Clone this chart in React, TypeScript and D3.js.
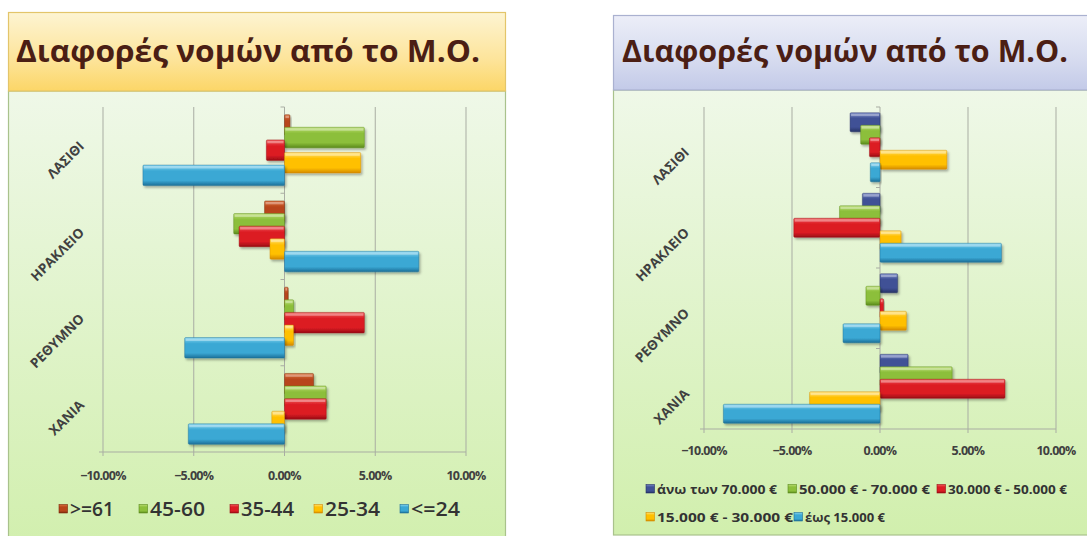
import React from "react";
import * as d3 from "d3";

const categories = ["ΛΑΣΙΘΙ", "ΗΡΑΚΛΕΙΟ", "ΡΕΘΥΜΝΟ", "ΧΑΝΙΑ"];

const ageSeries = [">=61", "45-60", "35-44", "25-34", "<=24"];
const ageOver61 = [0.3, -1.1, 0.2, 1.6];
const age45to60 = [4.4, -2.8, 0.5, 2.3];
const age35to44 = [-1.0, -2.5, 4.4, 2.3];
const age25to34 = [4.2, -0.8, 0.5, -0.7];
const ageUnder24 = [-7.8, 7.4, -5.5, -5.3];

const incomeSeries = [
  "άνω των 70.000 €",
  "50.000 € - 70.000 €",
  "30.000 € - 50.000 €",
  "15.000 € - 30.000 €",
  "έως 15.000 €",
];
const incOver70 = [-1.7, -1.0, 1.0, 1.6];
const inc50to70 = [-1.1, -2.3, -0.8, 4.1];
const inc30to50 = [-0.6, -4.9, 0.2, 7.1];
const inc15to30 = [3.8, 1.2, 1.5, -4.0];
const incUnder15 = [-0.55, 6.9, -2.1, -8.9];

const xTicks = [-10, -5, 0, 5, 10];
const titleText = "Διαφορές νομών από το Μ.Ο.";

type Col = { id: string; light: string; base: string; dark: string };
const brown: Col = { id: "gBrown", light: "#d9713f", base: "#b8451a", dark: "#7c2a0c" };
const green: Col = { id: "gGreen", light: "#b9dc72", base: "#8cbf3a", dark: "#5a8a1c" };
const red: Col = { id: "gRed", light: "#f05a5a", base: "#dc1c24", dark: "#9a0c14" };
const yellow: Col = { id: "gYellow", light: "#ffe27a", base: "#ffc000", dark: "#d48a00" };
const blue: Col = { id: "gBlue", light: "#86d4ef", base: "#3aa8d4", dark: "#1c6f98" };
const navy: Col = { id: "gNavy", light: "#7686c4", base: "#3f5196", dark: "#263366" };

const allCols = [brown, green, red, yellow, blue, navy];

type PanelProps = {
  names: string[];
  values: number[][];
  cols: Col[];
  panel: { x: number; y: number; w: number; h: number; titleBottom: number };
  titleFill: string;
  titleStroke: string;
  title: { x: number; y: number; len: number };
  xRange: [number, number];
  yRange: [number, number];
  step: number;
  barH: number;
  tickY: number;
  label: { dx: number; dy: number };
  legend: React.ReactNode;
};

function Panel(p: PanelProps) {
  const x = d3.scaleLinear().domain([-10, 10]).range(p.xRange);
  const y = d3.scaleBand<string>().domain(categories).range(p.yRange).padding(0);
  const bw = y.bandwidth();
  const fmt = (v: number) => d3.format(".2f")(v) + "%";
  const x0 = x(0);
  return (
    <g>
      <rect x={p.panel.x} y={p.panel.titleBottom} width={p.panel.w} height={p.panel.h - (p.panel.titleBottom - p.panel.y)} fill="url(#plotBg)" stroke="#a9c28c" strokeWidth={1.2} />
      <rect x={p.panel.x} y={p.panel.y} width={p.panel.w} height={p.panel.titleBottom - p.panel.y} fill={p.titleFill} stroke={p.titleStroke} strokeWidth={1.2} />
      <text x={p.title.x} y={p.title.y} fontFamily="'Open Sans', sans-serif" fontWeight={700} fontSize={31} fill="#4b1e14" textLength={p.title.len} lengthAdjust="spacingAndGlyphs">
        {titleText}
      </text>
      {xTicks.map((t) => (
        <line key={t} x1={x(t)} x2={x(t)} y1={p.yRange[0]} y2={p.yRange[1]} stroke="#a9ada3" strokeWidth={1} />
      ))}
      <line x1={p.xRange[0] - 4} x2={p.xRange[1]} y1={p.yRange[1]} y2={p.yRange[1]} stroke="#a9ada3" strokeWidth={1} />
      {xTicks.map((t) => (
        <line key={"tk" + t} x1={x(t)} x2={x(t)} y1={p.yRange[1]} y2={p.yRange[1] + 4} stroke="#a9ada3" />
      ))}
      {categories.map((c) => (
        <line key={"ct" + c} x1={x0 - 4} x2={x0} y1={y(c) as number} y2={y(c) as number} stroke="#a9ada3" />
      ))}
      {categories.map((c, ci) => (
        <g key={c}>
          {p.values.map((vals, si) => {
            const v = vals[ci];
            const cy = (y(c) as number) + bw / 2 + (si - 2) * p.step;
            const xa = Math.min(x(0), x(v));
            const w = Math.abs(x(v) - x(0));
            const col = p.cols[si];
            return (
              <g key={si} filter="url(#shadow)">
                <rect x={xa} y={cy - p.barH / 2} width={Math.max(w, 1)} height={p.barH} fill={`url(#${col.id})`} stroke={col.dark} strokeOpacity={0.55} strokeWidth={0.8} rx={1} />
                <rect x={xa + 1} y={cy - p.barH / 2 + 1} width={Math.max(w - 2, 0)} height={2.4} fill="#ffffff" opacity={0.35} />
              </g>
            );
          })}
        </g>
      ))}
      {categories.map((c) => {
        const ax = p.xRange[0] + p.label.dx;
        const ay = (y(c) as number) + bw / 2 + p.label.dy;
        return (
          <text key={"l" + c} x={ax} y={ay} transform={`rotate(-45 ${ax} ${ay})`} textAnchor="end" fontFamily="'Open Sans', sans-serif" fontWeight={700} fontSize={13.5} fill="#404040">
            {c}
          </text>
        );
      })}
      {xTicks.map((t) => (
        <text key={"tl" + t} x={x(t)} y={p.tickY} textAnchor="middle" dominantBaseline="middle" fontFamily="'Open Sans', sans-serif" fontWeight={700} fontSize={12.5} fill="#404040" letterSpacing={-0.7}>
          {fmt(t)}
        </text>
      ))}
      {p.legend}
    </g>
  );
}

function LegendItem({ x, y, col, label, size, len, weight }: { x: number; y: number; col: Col; label: string; size: number; len: number; weight: number }) {
  return (
    <g>
      <rect x={x} y={y - 4.5} width={8.5} height={8.5} fill={`url(#${col.id})`} stroke={col.dark} strokeWidth={0.6} />
      <text x={x + 11} y={y} dominantBaseline="central" fontFamily="'Open Sans', sans-serif" fontWeight={weight} fontSize={size} fill="#333333" textLength={len} lengthAdjust="spacingAndGlyphs">
        {label}
      </text>
    </g>
  );
}

export default function App() {
  const ageCols = [brown, green, red, yellow, blue];
  const incCols = [navy, green, red, yellow, blue];
  const ageLegendX = [59, 139, 230, 314, 400];
  const ageLegendLen = [44, 55, 53, 55, 49];
  const incLegendPos = [
    { x: 646, y: 489, len: 120 },
    { x: 788, y: 489, len: 131 },
    { x: 937, y: 489, len: 119 },
    { x: 646, y: 517, len: 136 },
    { x: 794, y: 517, len: 80 },
  ];
  return (
    <svg width={1087} height={536} style={{ position: "absolute", left: 0, top: 0, background: "#ffffff" }}>
      <defs>
        {allCols.map((c) => (
          <linearGradient key={c.id} id={c.id} x1="0" y1="0" x2="0" y2="1">
            <stop offset="0" stopColor={c.light} />
            <stop offset="0.3" stopColor={c.base} />
            <stop offset="0.75" stopColor={c.base} />
            <stop offset="1" stopColor={c.dark} />
          </linearGradient>
        ))}
        <linearGradient id="plotBg" x1="0" y1="0" x2="0" y2="1">
          <stop offset="0" stopColor="#eff8e8" />
          <stop offset="1" stopColor="#d1efad" />
        </linearGradient>
        <linearGradient id="titleYellow" x1="0" y1="0" x2="0" y2="1">
          <stop offset="0" stopColor="#fdf4d2" />
          <stop offset="0.6" stopColor="#fde49a" />
          <stop offset="1" stopColor="#fcd667" />
        </linearGradient>
        <linearGradient id="titleBlue" x1="0" y1="0" x2="0" y2="1">
          <stop offset="0" stopColor="#eceef8" />
          <stop offset="0.6" stopColor="#d6dbef" />
          <stop offset="1" stopColor="#c3cae8" />
        </linearGradient>
        <filter id="shadow" x="-10%" y="-30%" width="130%" height="180%">
          <feDropShadow dx={1.5} dy={2} stdDeviation={1.2} floodColor="#000" floodOpacity={0.3} />
        </filter>
      </defs>
      <Panel
        names={ageSeries}
        values={[ageOver61, age45to60, age35to44, age25to34, ageUnder24]}
        cols={ageCols}
        panel={{ x: 8.5, y: 12.5, w: 497, h: 540, titleBottom: 91 }}
        titleFill="url(#titleYellow)"
        titleStroke="#e3c56a"
        title={{ x: 16, y: 62, len: 464 }}
        xRange={[103, 466]}
        yRange={[107, 452]}
        step={12.6}
        barH={20.5}
        tickY={477}
        label={{ dx: -18, dy: -3 }}
        legend={
          <g>
            {ageSeries.map((s, i) => (
              <LegendItem key={s} x={ageLegendX[i]} y={509} col={ageCols[i]} label={s} size={19} len={ageLegendLen[i]} weight={600} />
            ))}
          </g>
        }
      />
      <Panel
        names={incomeSeries}
        values={[incOver70, inc50to70, inc30to50, inc15to30, incUnder15]}
        cols={incCols}
        panel={{ x: 613.5, y: 15.5, w: 500, h: 519.5, titleBottom: 90 }}
        titleFill="url(#titleBlue)"
        titleStroke="#aab1d0"
        title={{ x: 622, y: 62, len: 446 }}
        xRange={[704, 1056]}
        yRange={[107, 429]}
        step={12.5}
        barH={19}
        tickY={452}
        label={{ dx: -14, dy: 6 }}
        legend={
          <g>
            {incomeSeries.map((s, i) => (
              <LegendItem key={s} x={incLegendPos[i].x} y={incLegendPos[i].y} col={incCols[i]} label={s} size={12.5} len={incLegendPos[i].len} weight={700} />
            ))}
          </g>
        }
      />
    </svg>
  );
}
